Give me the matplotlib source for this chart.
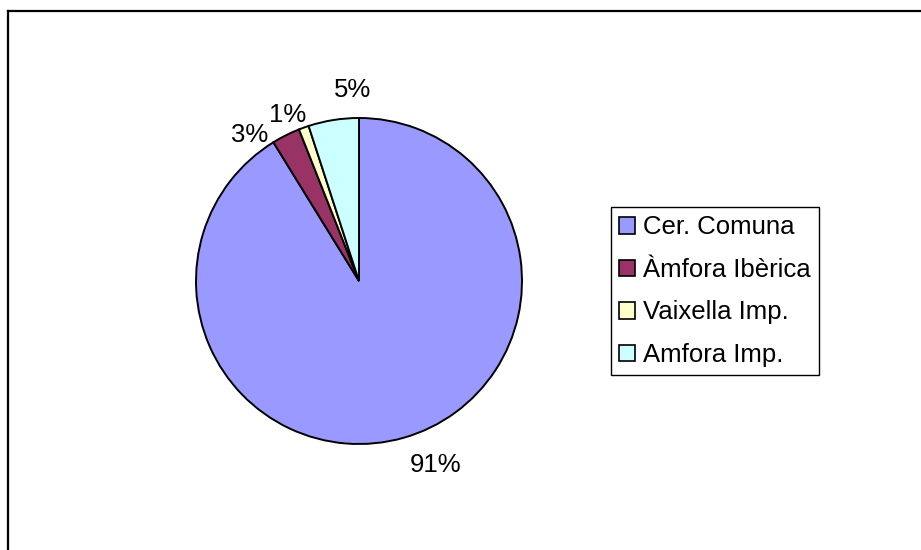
import numpy as np
import matplotlib
matplotlib.use('Agg')
import matplotlib.pyplot as plt
from matplotlib.lines import Line2D
from matplotlib.patches import Patch

plt.rcParams['font.family'] = ['Liberation Sans', 'DejaVu Sans']

categories = ['Cer. Comuna', 'Àmfora Ibèrica', 'Vaixella Imp.', 'Amfora Imp.']
values = [91.2, 2.8, 1.0, 5.0]
colors = ['#9999FF', '#993366', '#FFFFCC', '#CCFFFF']

W, H = 921, 550
fig = plt.figure(figsize=(W / 100, H / 100), dpi=100)

# pie axes: centre (359,281) px, radius 163 px
cx, cy, r = 359, 281, 163
ax = fig.add_axes([(cx - r) / W, (H - cy - r) / H, 2 * r / W, 2 * r / H])
wedges, _ = ax.pie(values, colors=colors, startangle=90, counterclock=False,
                   radius=1, wedgeprops=dict(edgecolor='black', linewidth=1.4))
ax.set_xlim(-1, 1)
ax.set_ylim(-1, 1)
ax.set_axis_off()

# labels placed like Excel: small angle nudge and distance per wedge
nudge = [6.8, 10.0, 3.4, -7.2]
dist = [1.225, 1.12, 1.11, 1.17]
for i, w in enumerate(wedges):
    mid = np.deg2rad((w.theta1 + w.theta2) / 2 + nudge[i])
    pct = values[i] / sum(values) * 100
    ax.text(dist[i] * np.cos(mid), dist[i] * np.sin(mid), '%d%%' % round(pct),
            ha='center', va='center', fontsize=18.5, clip_on=False)

handles = [Patch(facecolor=c, edgecolor='black', linewidth=1.2) for c in colors]
leg = fig.legend(handles, categories, loc='upper left',
                 bbox_to_anchor=(611 / W, 1 - 207 / H), borderaxespad=0,
                 fontsize=18.5, frameon=True, fancybox=False, framealpha=1,
                 edgecolor='black', borderpad=0.33, labelspacing=0.72,
                 handlelength=0.6, handleheight=0.6, handletextpad=0.3)
leg.get_frame().set_linewidth(1.0)

# chart area border (clipped at right and bottom)
fig.add_artist(Line2D([8 / W, 1], [1 - 11 / H, 1 - 11 / H], color='black', lw=1.6,
                      transform=fig.transFigure))
fig.add_artist(Line2D([8 / W, 8 / W], [1 - 11 / H, 0], color='black', lw=1.6,
                      transform=fig.transFigure))

fig.savefig('out.png', dpi=100)
